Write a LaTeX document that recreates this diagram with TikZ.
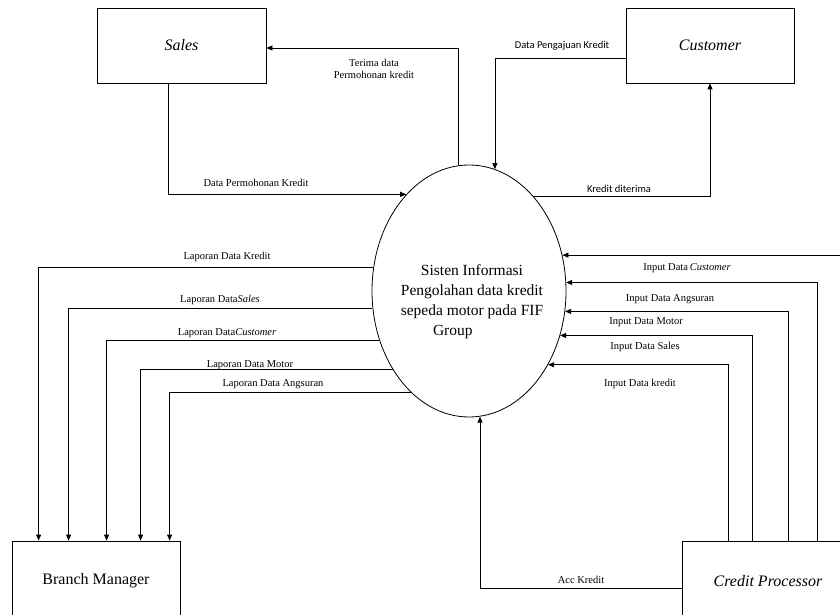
\documentclass[tikz,border=0pt]{standalone}
\usepackage{fontspec}
\setmainfont{Liberation Serif}
\newfontfamily\carlitofont{Carlito}
\usetikzlibrary{arrows.meta,shapes.geometric}
\begin{document}
\begin{tikzpicture}[x=1pt,y=-1pt,
  box/.style={draw,rectangle,line width=0.8pt,inner sep=0pt,font=\fontsize{16}{19}\selectfont},
  lbl/.style={inner sep=0pt,font=\fontsize{10.5}{12}\selectfont},
  clbl/.style={inner sep=0pt,font=\carlitofont\fontsize{10.5}{12}\selectfont},
  flow/.style={line width=0.8pt,-{Triangle[length=6pt,width=5pt]}},
  outline/.style={line width=0.8pt}]
\useasboundingbox (0,0) rectangle (840,615);
% entities
\node[box,minimum width=169pt,minimum height=75pt] (sales) at (181.5,45.5) {\textit{Sales}};
\node[box,minimum width=168pt,minimum height=75pt] (cust) at (710,45.5) {\textit{Customer}};
\node[box,minimum width=168pt,minimum height=80pt] (bm) at (96,581) {Branch Manager};
\node[box,draw=none,minimum width=170pt,minimum height=78pt] (cp) at (768,581) {\textit{Credit Processor}};
\coordinate (rightedge) at (839.6,254);
\draw[outline] (cp.north west -| rightedge) -- (cp.north west) -- (cp.south west);
% process
\node[draw,ellipse,line width=0.8pt,minimum width=194pt,minimum height=252pt,inner sep=0pt] (sys) at (469,291) {};
\node[inner sep=0pt,align=center,font=\fontsize{15.5}{20}\selectfont] (systxt) at (472,302)
  {Sisten Informasi\\Pengolahan data kredit\\sepeda motor pada FIF\\\makebox[78pt][l]{Group}};
% top flows
\draw[flow] ([xshift=72pt]sales.south west) |- (sys.123.2);
\draw[flow] (sys.95) |- ([yshift=-2.5pt]sales.east);
\draw[flow] ([yshift=-12.5pt]cust.west) -| (sys.78.4);
\draw[flow] (sys.56.8) -| (cust.south);
% reports to Branch Manager
\draw[flow] (sys.166.4) -| ([xshift=27pt]bm.north west);
\draw[flow] (sys.190.6) -| ([xshift=57pt]bm.north west);
\draw[flow] (sys.209.9) -| ([xshift=95pt]bm.north west);
\draw[flow] (sys.226.9) -| ([xshift=129pt]bm.north west);
\draw[flow] (sys.240.8) -| ([xshift=158pt]bm.north west);
% inputs from Credit Processor
\draw[flow] (sys.21.8 -| rightedge) -- (sys.21.8);
\draw[flow] ([xshift=135pt]cp.north west) |- (sys.5.3);
\draw[flow] ([xshift=106pt]cp.north west) |- (sys.348.8);
\draw[flow] ([xshift=70pt]cp.north west) |- (sys.334.8);
\draw[flow] ([xshift=46pt]cp.north west) |- (sys.317.3);
\draw[flow] ([yshift=-7pt]cp.west) -| (sys.275);
% labels
\node[lbl,align=center] (lterima) at (374,69) {Terima data\\Permohonan kredit};
\node[clbl] (lpengajuan) at (562,46) {Data Pengajuan Kredit};
\node[lbl] (lpermohonan) at (256,183) {Data Permohonan Kredit};
\node[clbl] (lditerima) at (619,189) {Kredit diterima};
\node[lbl] (lrk) at (227,257) {Laporan Data Kredit};
\node[lbl] (lrs) at (220,300) {Laporan Data\textit{Sales}};
\node[lbl] (lrc) at (227,333) {Laporan Data\textit{Customer}};
\node[lbl] (lrm) at (250,365) {Laporan Data Motor};
\node[lbl] (lra) at (273,384) {Laporan Data Angsuran};
\node[lbl] (lic) at (687,268) {Input Data\,\textit{Customer}};
\node[lbl] (lia) at (670,299) {Input Data Angsuran};
\node[lbl] (lim) at (646,322) {Input Data Motor};
\node[lbl] (lis) at (645,347) {Input Data Sales};
\node[lbl] (lik) at (640,384) {Input Data kredit};
\node[lbl] (lacc) at (581,580) {Acc Kredit};
\end{tikzpicture}
\end{document}
